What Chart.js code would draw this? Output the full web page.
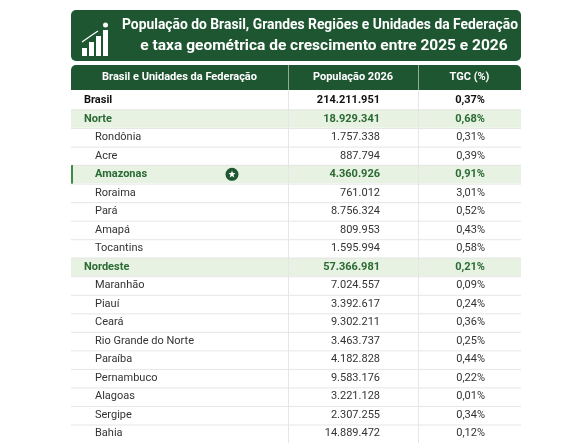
<!DOCTYPE html>
<html><head><meta charset="utf-8">
<script src="https://cdn.jsdelivr.net/npm/chart.js@4"></script>
<style>html,body{margin:0;background:#fff}#c{display:block}</style>
</head><body>
<div style="width:579px;height:443px"><canvas id="c"></canvas></div>
<script>
const rowNames = ['Brasil','Norte','Rondônia','Acre','Amazonas','Roraima','Pará','Amapá','Tocantins',
  'Nordeste','Maranhão','Piauí','Ceará','Rio Grande do Norte','Paraíba','Pernambuco','Alagoas','Sergipe','Bahia'];
const population = ['214.211.951','18.929.341','1.757.338','887.794','4.360.926','761.012','8.756.324','809.953','1.595.994',
  '57.366.981','7.024.557','3.392.617','9.302.211','3.463.737','4.182.828','9.583.176','3.221.128','2.307.255','14.889.472'];
const tgc = ['0,37%','0,68%','0,31%','0,39%','0,91%','3,01%','0,52%','0,43%','0,58%',
  '0,21%','0,09%','0,24%','0,36%','0,25%','0,44%','0,22%','0,01%','0,34%','0,12%'];
const rowKind = ['total','region','state','state','highlight','state','state','state','state',
  'region','state','state','state','state','state','state','state','state','state'];
const headers = ['Brasil e Unidades da Federação','População 2026','TGC (%)'];
const colEdges = [0, 217, 347, 450];

const GREEN = '#1f5632';
const TEXT_GREEN = '#2a6a34';
const bgFor = k => (k === 'region' || k === 'highlight') ? '#e8f2e2' : '#ffffff';

// draw text squeezed to a max width, like a condensed face
function fitText(ctx, txt, cx, cy, maxW) {
  const w = ctx.measureText(txt).width;
  const s = Math.min(1, maxW / w);
  ctx.save(); ctx.translate(cx, cy); ctx.scale(s, 1); ctx.fillText(txt, 0, 0); ctx.restore();
}

const tablePlugin = {
  id: 'tablePlugin',
  beforeDatasetsDraw(chart) {
    const { ctx } = chart;
    ctx.save();
    ctx.fillStyle = GREEN;
    ctx.beginPath(); ctx.roundRect(71, 10, 450, 51, 5); ctx.fill();
    // icon
    ctx.fillStyle = '#fff';
    [[82, 48, 5, 8], [89, 42, 5, 14], [96, 36, 5, 20], [103, 30, 5, 26]].forEach(([x, y, w, h]) => ctx.fillRect(x, y, w, h));
    ctx.beginPath(); ctx.arc(105.5, 25, 2.5, 0, Math.PI * 2); ctx.fill();
    ctx.strokeStyle = '#fff'; ctx.lineWidth = 1.2;
    ctx.beginPath(); ctx.moveTo(82, 42); ctx.lineTo(92, 35); ctx.lineTo(98, 31); ctx.stroke();
    ctx.font = 'bold 15.5px Roboto'; ctx.textAlign = 'center'; ctx.textBaseline = 'middle';
    fitText(ctx, 'População do Brasil, Grandes Regiões e Unidades da Federação', 320, 25, 396);
    fitText(ctx, 'e taxa geométrica de crescimento entre 2025 e 2026', 324, 46, 368);
    // header row
    ctx.fillStyle = GREEN;
    ctx.beginPath(); ctx.roundRect(71, 65, 450, 25, [5, 5, 0, 0]); ctx.fill();
    const xs = chart.scales.x;
    ctx.font = 'bold 11px Roboto';
    for (let i = 0; i < 3; i++) {
      const l = xs.getPixelForValue(colEdges[i]), r = xs.getPixelForValue(colEdges[i + 1]);
      ctx.fillStyle = '#fff';
      ctx.fillText(headers[i], (l + r) / 2, 77.5);
      if (i > 0) { ctx.fillStyle = 'rgba(255,255,255,0.5)'; ctx.fillRect(l, 65, 1, 25); }
    }
    ctx.restore();
  },
  afterDatasetsDraw(chart) {
    const { ctx, chartArea: a } = chart;
    const xs = chart.scales.x, ys = chart.scales.y;
    const h = ys.getPixelForValue(1) - ys.getPixelForValue(0);
    ctx.save();
    ctx.textBaseline = 'middle';
    ctx.fillStyle = '#e6e6e6';
    [1, 2].forEach(i => ctx.fillRect(xs.getPixelForValue(colEdges[i]), a.top, 1, a.bottom - a.top));
    rowNames.forEach((name, i) => {
      const y = ys.getPixelForValue(i);
      const k = rowKind[i];
      ctx.fillStyle = '#e6e6e6';
      ctx.fillRect(a.left, y + h / 2, a.right - a.left, 1);
      const bold = k !== 'state';
      ctx.fillStyle = (k === 'region' || k === 'highlight') ? TEXT_GREEN : (k === 'total' ? '#111' : '#333');
      ctx.font = (bold ? 'bold ' : '') + '11px Roboto';
      ctx.textAlign = 'left';
      ctx.fillText(name, k === 'total' || k === 'region' ? 84 : 95, y);
      ctx.textAlign = 'right';
      ctx.fillText(population[i], 380, y);
      ctx.fillText(tgc[i], 485, y);
      if (k === 'highlight') {
        ctx.fillStyle = '#3d8a45'; ctx.fillRect(a.left, y - h / 2, 2, h);
        ctx.fillStyle = GREEN; ctx.beginPath(); ctx.arc(232, y, 6.5, 0, Math.PI * 2); ctx.fill();
        ctx.fillStyle = '#fff'; ctx.beginPath();
        for (let p = 0; p < 10; p++) {
          const r = p % 2 ? 1.6 : 3.8, ang = -Math.PI / 2 + p * Math.PI / 5;
          ctx.lineTo(232 + r * Math.cos(ang), y + r * Math.sin(ang));
        }
        ctx.fill();
      }
    });
    ctx.restore();
  }
};

new Chart(document.getElementById('c'), {
  type: 'bar',
  data: {
    labels: rowNames,
    datasets: [{
      data: rowNames.map(() => [colEdges[0], colEdges[3]]),
      backgroundColor: rowKind.map(bgFor),
      barPercentage: 1,
      categoryPercentage: 1,
      borderWidth: 0
    }]
  },
  options: {
    indexAxis: 'y',
    animation: false,
    responsive: true,
    maintainAspectRatio: false,
    layout: { padding: { top: 91, left: 71, right: 58, bottom: 0 } },
    plugins: { legend: { display: false }, tooltip: { enabled: false } },
    scales: {
      x: { display: false, min: colEdges[0], max: colEdges[3] },
      y: { display: false }
    }
  },
  plugins: [tablePlugin]
});
</script>
</body></html>
